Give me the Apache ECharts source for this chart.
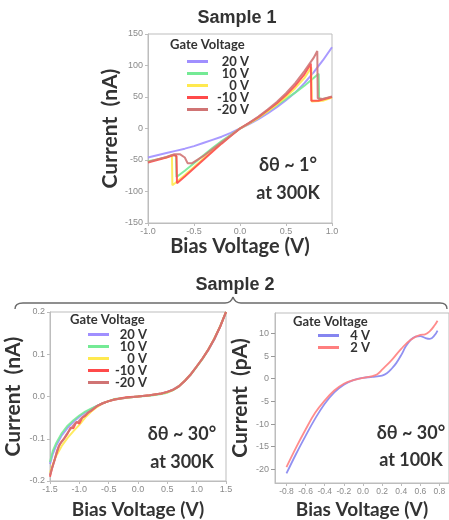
<!DOCTYPE html>
<html><head><meta charset="utf-8">
<script src="https://cdn.jsdelivr.net/npm/echarts@6/dist/echarts.min.js"></script>
<style>html,body{margin:0;padding:0;background:#fff}#c{width:449px;height:520px}</style>
</head><body><div id="c"></div>
<script>
// ---------- DATA ----------
const gateNames = ['20 V', '10 V', '0 V', '-10 V', '-20 V'];
const gateColors = ['#a08fff', '#74ea95', '#ffe94f', '#ff4a4a', '#d07474'];

// Sample 1 (delta theta ~ 1 deg, 300K): [bias V, current nA]
const s1_20V = [[-1,-46],[-0.9,-42.5],[-0.8,-39],[-0.7,-35.5],[-0.6,-32],[-0.5,-28],[-0.4,-23],[-0.3,-18],[-0.2,-13],[-0.1,-7],[0,0],[0.1,7],[0.2,15],[0.3,24],[0.4,34],[0.5,45],[0.6,57],[0.7,72],[0.8,89],[0.9,108],[1.0,129]];
const s1_10V = [[-1,-52],[-0.9,-49],[-0.8,-45.5],[-0.72,-42],[-0.695,-43],[-0.69,-77],[-0.6,-67],[-0.5,-55],[-0.4,-43],[-0.3,-31],[-0.2,-20],[-0.1,-10],[0,0],[0.1,8],[0.2,17],[0.3,27],[0.4,37],[0.5,47],[0.6,57],[0.7,68],[0.8,80],[0.855,87],[0.86,46],[0.9,47],[1.0,50]];
const s1_0V = [[-1,-53],[-0.9,-49],[-0.8,-46],[-0.74,-42],[-0.735,-90],[-0.7,-86],[-0.6,-74],[-0.5,-61],[-0.4,-48],[-0.3,-35],[-0.2,-23],[-0.1,-11],[0,0],[0.1,8],[0.2,17],[0.3,27],[0.4,38],[0.5,50],[0.6,64],[0.7,80],[0.775,97],[0.78,43],[0.9,44],[1.0,49]];
const s1_m10V = [[-1,-54],[-0.9,-50],[-0.8,-46],[-0.72,-42],[-0.69,-44],[-0.685,-87],[-0.6,-76],[-0.5,-63],[-0.4,-50],[-0.3,-37],[-0.2,-24],[-0.1,-12],[0,0],[0.1,9],[0.2,18],[0.3,29],[0.4,40],[0.5,53],[0.6,68],[0.7,86],[0.77,103],[0.775,44],[0.85,44],[0.9,46],[1.0,50]];
const s1_m20V = [[-1,-53],[-0.9,-49],[-0.8,-45],[-0.72,-41],[-0.65,-41],[-0.6,-46],[-0.57,-55],[-0.52,-55],[-0.4,-44],[-0.3,-33],[-0.2,-22],[-0.1,-11],[0,0],[0.1,9],[0.2,19],[0.3,30],[0.4,42],[0.5,56],[0.6,72],[0.7,91],[0.8,112],[0.84,123],[0.845,48],[0.9,47],[1.0,51]];

// Sample 2 (delta theta ~ 30 deg, 300K): [bias V, current nA]
const s2a_20V = [[-1.5,-0.16],[-1.45,-0.135],[-1.4,-0.118],[-1.3,-0.092],[-1.2,-0.074],[-1.1,-0.06],[-1.0,-0.048],[-0.9,-0.038],[-0.8,-0.03],[-0.7,-0.022],[-0.6,-0.016],[-0.5,-0.011],[-0.4,-0.007],[-0.2,-0.003],[0,0],[0.2,0.003],[0.4,0.007],[0.5,0.011],[0.6,0.017],[0.7,0.025],[0.8,0.037],[0.9,0.053],[1.0,0.071],[1.1,0.09],[1.2,0.11],[1.3,0.135],[1.4,0.165],[1.5,0.2]];
const s2a_10V = [[-1.5,-0.155],[-1.45,-0.128],[-1.4,-0.112],[-1.3,-0.087],[-1.2,-0.069],[-1.1,-0.056],[-1.0,-0.045],[-0.9,-0.036],[-0.8,-0.029],[-0.7,-0.022],[-0.6,-0.016],[-0.5,-0.011],[-0.4,-0.006],[-0.2,-0.003],[0,0],[0.2,0.002],[0.4,0.006],[0.5,0.009],[0.6,0.015],[0.7,0.024],[0.8,0.037],[0.9,0.052],[1.0,0.07],[1.1,0.089],[1.2,0.111],[1.3,0.136],[1.4,0.166],[1.5,0.2]];
const s2a_0V = [[-1.5,-0.18],[-1.45,-0.16],[-1.4,-0.142],[-1.3,-0.117],[-1.2,-0.098],[-1.1,-0.082],[-1.0,-0.067],[-0.9,-0.05],[-0.8,-0.036],[-0.7,-0.025],[-0.6,-0.016],[-0.5,-0.011],[-0.4,-0.007],[-0.2,-0.003],[0,0],[0.2,0.003],[0.4,0.007],[0.5,0.01],[0.6,0.016],[0.7,0.025],[0.8,0.038],[0.9,0.053],[1.0,0.071],[1.1,0.09],[1.2,0.112],[1.3,0.137],[1.4,0.166],[1.5,0.2]];
const s2a_m10V = [[-1.5,-0.19],[-1.47,-0.172],[-1.44,-0.158],[-1.4,-0.14],[-1.35,-0.118],[-1.3,-0.106],[-1.25,-0.098],[-1.2,-0.088],[-1.15,-0.074],[-1.1,-0.075],[-1.05,-0.06],[-1.0,-0.064],[-0.95,-0.05],[-0.9,-0.046],[-0.85,-0.038],[-0.8,-0.034],[-0.7,-0.023],[-0.6,-0.016],[-0.5,-0.011],[-0.4,-0.007],[-0.2,-0.002],[0,0],[0.2,0.003],[0.4,0.007],[0.5,0.011],[0.6,0.016],[0.65,0.02],[0.7,0.024],[0.8,0.037],[0.9,0.052],[1.0,0.071],[1.1,0.09],[1.2,0.111],[1.3,0.136],[1.4,0.165],[1.5,0.2]];
const s2a_m20V = [[-1.5,-0.186],[-1.46,-0.168],[-1.42,-0.15],[-1.38,-0.128],[-1.33,-0.112],[-1.28,-0.104],[-1.22,-0.09],[-1.17,-0.08],[-1.12,-0.072],[-1.07,-0.063],[-1.02,-0.06],[-0.97,-0.052],[-0.9,-0.044],[-0.8,-0.033],[-0.7,-0.023],[-0.6,-0.016],[-0.5,-0.011],[-0.4,-0.007],[-0.2,-0.003],[0,0],[0.2,0.003],[0.4,0.007],[0.5,0.011],[0.6,0.016],[0.7,0.025],[0.8,0.038],[0.9,0.053],[1.0,0.071],[1.1,0.09],[1.2,0.112],[1.3,0.136],[1.4,0.166],[1.5,0.2]];

// Sample 2 (delta theta ~ 30 deg, 100K): [bias V, current pA]
const gateNames100K = ['4 V', '2 V'];
const gateColors100K = ['#8585f0', '#ff7f7f'];
const s2b_4V = [[-0.8,-20.9],[-0.7,-16.6],[-0.6,-12.6],[-0.5,-8.8],[-0.4,-5.5],[-0.3,-3.0],[-0.2,-1.3],[-0.1,-0.3],[0,0.2],[0.1,0.4],[0.2,0.7],[0.25,1.2],[0.3,2.2],[0.35,3.5],[0.4,5.2],[0.45,7.2],[0.5,8.6],[0.55,9.3],[0.6,9.4],[0.65,9.0],[0.7,8.8],[0.75,9.6],[0.78,10.6]];
const s2b_2V = [[-0.8,-19.5],[-0.7,-15.2],[-0.6,-11.2],[-0.5,-7.5],[-0.4,-4.8],[-0.3,-2.6],[-0.2,-1.1],[-0.1,-0.3],[0,0.2],[0.1,0.6],[0.15,1.0],[0.2,2.0],[0.3,4.1],[0.4,6.6],[0.5,8.6],[0.6,9.7],[0.65,9.8],[0.7,10.5],[0.75,11.8],[0.78,12.8]];

// tick labels
const s2bYTicks = [-20, -15, -10, -5, 0, 5, 10];
const s2bXTicks = [-0.8, -0.6, -0.4, -0.2, 0, 0.2, 0.4, 0.6, 0.8];

// ---------- CHART ----------
const chart = echarts.init(document.getElementById('c'), null, {renderer: 'canvas'});
const F = 'Lato, "Open Sans", sans-serif';
const tickFont = {color: '#8a8a8a', fontSize: 9, fontFamily: '"Liberation Sans", Arial, sans-serif'};
const axisLineStyle = {color: '#bdbdbd', width: 1};
const nameStyle = {fontFamily: F, fontWeight: 'bold', fontSize: 20, color: '#333'};
const yNameStyle = Object.assign({}, nameStyle, {fontSize: 21});

function xAxisCfg(grid, min, max, extra) {
  return Object.assign({
    type: 'value', gridIndex: grid, min: min, max: max,
    axisLine: {show: true, lineStyle: axisLineStyle, onZero: false},
    axisTick: {show: true, inside: false, length: 3, lineStyle: axisLineStyle},
    axisLabel: Object.assign({margin: 4, formatter: v => v.toFixed(1)}, tickFont),
    splitLine: {show: false},
    name: 'Bias Voltage (V)', nameLocation: 'middle', nameGap: 19, nameTextStyle: nameStyle
  }, extra || {});
}
function yAxisCfg(grid, min, max, name, gap, extra) {
  return Object.assign({
    type: 'value', gridIndex: grid, min: min, max: max,
    axisLine: {show: true, lineStyle: axisLineStyle, onZero: false},
    axisTick: {show: true, inside: false, length: 3, lineStyle: axisLineStyle},
    axisLabel: Object.assign({margin: 5}, tickFont),
    splitLine: {show: false},
    name: name, nameLocation: 'middle', nameGap: gap, nameRotate: 90, nameTextStyle: yNameStyle
  }, extra || {});
}

const s1Data = [s1_20V, s1_10V, s1_0V, s1_m10V, s1_m20V];
const s2aData = [s2a_20V, s2a_10V, s2a_0V, s2a_m10V, s2a_m20V];
const s2bData = [s2b_4V, s2b_2V];

const series = [];
s1Data.forEach((d, i) => series.push({
  type: 'line', name: gateNames[i], xAxisIndex: 0, yAxisIndex: 0, data: d,
  showSymbol: false, symbol: 'none', color: gateColors[i],
  lineStyle: {width: 2, color: gateColors[i], opacity: 0.9}, z: 2 + i
}));
s2aData.forEach((d, i) => series.push({
  type: 'line', name: gateNames[i], xAxisIndex: 1, yAxisIndex: 1, data: d,
  showSymbol: false, symbol: 'none', color: gateColors[i],
  lineStyle: {width: 2, color: gateColors[i], opacity: 0.9}, z: 2 + i
}));
s2bData.forEach((d, i) => series.push({
  type: 'line', name: gateNames100K[i], xAxisIndex: 2, yAxisIndex: 2, data: d,
  showSymbol: false, symbol: 'none', smooth: 0.4, color: gateColors100K[i],
  lineStyle: {width: 1.8, color: gateColors100K[i], opacity: 0.9}, z: 2
}));

function legendCfg(names, left, top, w) {
  return {
    data: names, left: left, top: top, orient: 'vertical', padding: 0,
    icon: 'rect', itemWidth: 21, itemHeight: 3, itemGap: -1,
    selectedMode: false,
    formatter: n => '{a|' + n + '}',
    textStyle: {lineHeight: 13, rich: {a: {width: w, align: 'right', fontFamily: F, fontWeight: 'bold', fontSize: 13, color: '#333', lineHeight: 13}}}
  };
}

const gTexts = [
  ['Sample 1', 237, 18, 18, '"Liberation Sans", Arial, sans-serif', 'center'],
  ['Sample 2', 235, 285, 18, '"Liberation Sans", Arial, sans-serif', 'center'],
  ['Gate Voltage', 170, 45, 13, F, 'left'],
  ['Gate Voltage', 70, 320, 13, F, 'left'],
  ['Gate Voltage', 293, 322, 13, F, 'left'],
  ['δθ ~ 1°', 288, 165, 18, F, 'center'],
  ['at 300K', 288, 193, 18, F, 'center'],
  ['δθ ~ 30°', 182, 434, 18, F, 'center'],
  ['at 300K', 182, 462, 18, F, 'center'],
  ['δθ ~ 30°', 411, 433, 18, F, 'center'],
  ['at 100K', 411, 460, 18, F, 'center']
];
const graphic = gTexts.map(t => ({
  type: 'text', x: t[1], y: t[2], z: 100,
  style: {text: t[0], fill: '#333', font: 'bold ' + t[3] + 'px ' + t[4], textAlign: t[5], textVerticalAlign: 'middle'}
}));
const braceStyle = {fill: 'none', stroke: '#6a6a6a', lineWidth: 1.4};
graphic.push(
  {type: 'bezierCurve', z: 100, shape: {x1: 15, y1: 309, cpx1: 15, cpy1: 303, x2: 23, y2: 303}, style: braceStyle},
  {type: 'line', z: 100, shape: {x1: 23, y1: 303, x2: 225, y2: 303}, style: braceStyle},
  {type: 'bezierCurve', z: 100, shape: {x1: 225, y1: 303, cpx1: 231, cpy1: 303, x2: 233, y2: 297}, style: braceStyle},
  {type: 'bezierCurve', z: 100, shape: {x1: 233, y1: 297, cpx1: 235, cpy1: 303, x2: 241, y2: 303}, style: braceStyle},
  {type: 'line', z: 100, shape: {x1: 241, y1: 303, x2: 440, y2: 303}, style: braceStyle},
  {type: 'bezierCurve', z: 100, shape: {x1: 440, y1: 303, cpx1: 447, cpy1: 303, x2: 447, y2: 309}, style: braceStyle}
);

chart.setOption({
  animation: false,
  backgroundColor: '#fff',
  grid: [
    {left: 148, top: 34, width: 184, height: 189, show: true, borderColor: '#bdbdbd', borderWidth: 1, backgroundColor: 'transparent'},
    {left: 50, top: 312, width: 176, height: 174, show: true, borderColor: '#bdbdbd', borderWidth: 1, backgroundColor: 'transparent'},
    {left: 275, top: 313, width: 179, height: 176, show: true, borderColor: '#bdbdbd', borderWidth: 1, backgroundColor: 'transparent'}
  ],
  xAxis: [
    xAxisCfg(0, -1, 1, {interval: 0.5, nameGap: 14}),
    xAxisCfg(1, -1.5, 1.5, {interval: 0.5, nameGap: 19, nameTextStyle: Object.assign({}, nameStyle, {fontSize: 19})}),
    xAxisCfg(2, -0.92, 0.9, {
      nameGap: 17, nameTextStyle: Object.assign({}, nameStyle, {fontSize: 19}),
      axisTick: {show: true, length: 3, lineStyle: axisLineStyle, customValues: s2bXTicks},
      axisLabel: Object.assign({margin: 4, customValues: s2bXTicks, formatter: v => v.toFixed(1)}, tickFont, {fontSize: 8.5})
    })
  ],
  yAxis: [
    yAxisCfg(0, -150, 150, 'Current  (nA)', 25, {interval: 50}),
    yAxisCfg(1, -0.2, 0.2, 'Current  (nA)', 26, {interval: 0.1, axisLabel: Object.assign({margin: 5, formatter: v => v.toFixed(1)}, tickFont)}),
    yAxisCfg(2, -23, 14.5, 'Current  (pA)', 24, {
      axisTick: {show: true, length: 4, lineStyle: {color: '#999'}, customValues: s2bYTicks},
      axisLabel: Object.assign({margin: 6, customValues: s2bYTicks}, tickFont)
    })
  ],
  legend: [
    legendCfg(gateNames, 187, 55, 36),
    legendCfg(gateNames, 88, 328, 33),
    legendCfg(gateNames100K, 318, 329, 26)
  ],
  graphic: graphic,
  series: series
});
</script>
</body></html>
